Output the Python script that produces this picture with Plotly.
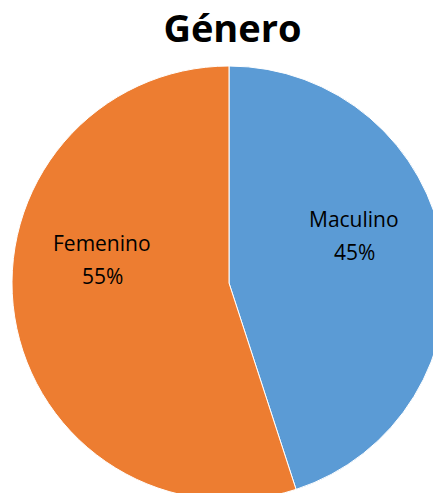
import plotly.graph_objects as go

title_text = "Género"
categories = ["Maculino", "Femenino"]
values = [45, 55]
colors = ["#5B9BD5", "#ED7D31"]

W, H = 446, 500
L, T = 12, 66
PW = PH = 434

fig = go.Figure(go.Pie(
    labels=categories,
    values=values,
    sort=False,
    direction="clockwise",
    rotation=0,
    marker=dict(colors=colors, line=dict(color="white", width=1)),
    textinfo="none",
    hoverinfo="label+percent",
    showlegend=False,
    domain=dict(x=[0, 1], y=[0, 1]),
))

FONT = "Open Sans, Lato, sans-serif"
total = sum(values)
# (x center, y of name line, y of percent line) in pixels
label_pos = {"Maculino": (354, 219, 252), "Femenino": (102, 243.5, 275.5)}
annotations = []
for cat, v in zip(categories, values):
    px, py1, py2 = label_pos[cat]
    for txt, py in ((cat, py1), (f"{round(100 * v / total)}%", py2)):
        annotations.append(dict(
            x=(px - L) / PW, y=1 - (py - T) / PH, xref="paper", yref="paper",
            text=txt, showarrow=False,
            font=dict(family=FONT, size=21, color="#000000"),
            align="center", xanchor="center", yanchor="middle",
        ))

fig.update_layout(
    width=W, height=H,
    margin=dict(l=L, r=W - L - PW, t=T, b=H - T - PH, pad=0),
    paper_bgcolor="white", plot_bgcolor="white",
    title=dict(text=f"<b>{title_text}</b>", x=232.5 / W, xanchor="center",
               y=1 - 29 / H, yanchor="middle", yref="container",
               font=dict(family=FONT, size=38, color="#000000")),
    annotations=annotations,
)

fig.write_html(
    "out.html",
    config={"displayModeBar": False},
    post_script="document.body.style.margin='0';document.body.style.overflow='hidden';document.documentElement.style.overflow='hidden';",
)
